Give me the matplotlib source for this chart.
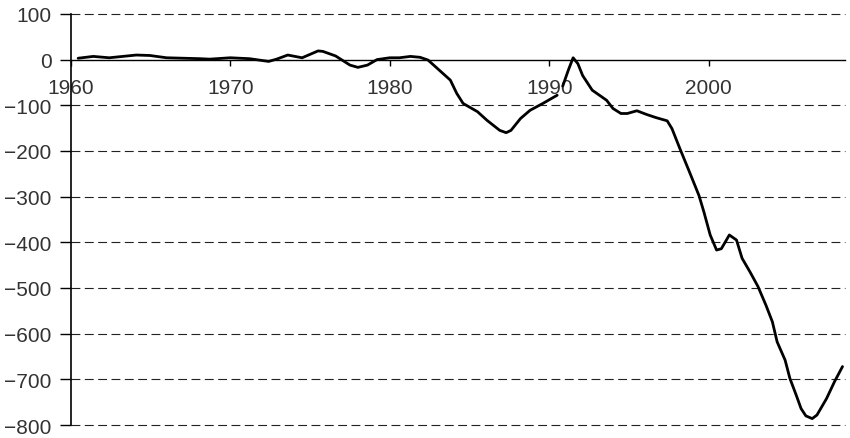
import matplotlib.pyplot as plt

plt.rcParams["font.family"] = ["Liberation Sans", "DejaVu Sans"]

# first segment, up to the 1990/91 break
years_a = [1960.45, 1961.4, 1962.4, 1964.1, 1964.95, 1966.0, 1968.1, 1968.7,
           1970.0, 1971.2, 1972.4, 1972.9, 1973.6, 1974.5, 1975.5, 1975.8,
           1976.6, 1977.5, 1978.0, 1978.6, 1979.2, 1980.0, 1980.6, 1981.3,
           1981.9, 1982.4, 1983.1, 1983.8, 1984.2, 1984.6, 1985.5, 1986.1,
           1986.9, 1987.3, 1987.6, 1988.2, 1988.8, 1989.6, 1990.5]
values_a = [3, 7, 4, 10, 9, 4, 2, 1,
            4, 2, -4, 1, 10, 4, 19, 18,
            8, -12, -17, -12, 0, 4, 4, 7,
            5, -1, -23, -45, -74, -96, -114, -133,
            -155, -160, -155, -129, -111, -96, -78]

# second segment, after the break
years_b = [1990.85, 1991.2, 1991.5, 1991.8, 1992.1, 1992.7, 1993.6, 1994.0,
           1994.5, 1994.9, 1995.5, 1996.1, 1996.7, 1997.4, 1997.7, 1998.2,
           1998.8, 1999.4, 1999.7, 2000.1, 2000.5, 2000.8, 2001.3, 2001.75,
           2002.1, 2002.6, 2003.1, 2003.6, 2004.0, 2004.3, 2004.8, 2005.1,
           2005.5, 2005.8, 2006.1, 2006.5, 2006.8, 2007.4, 2007.9, 2008.4]
values_b = [-58, -23, 4, -9, -35, -67, -89, -107,
            -118, -118, -112, -120, -127, -134, -151, -195,
            -246, -298, -333, -384, -417, -414, -384, -395,
            -435, -465, -497, -538, -574, -618, -658, -698,
            -735, -764, -780, -786, -778, -742, -705, -672]

x_ticks = [1960, 1970, 1980, 1990, 2000]
y_ticks = list(range(-800, 101, 100))

fig = plt.figure(figsize=(8.5, 4.39), dpi=100)
ax = fig.add_axes([0.0835, 0.0296, 0.9105, 0.9364])

for y in y_ticks:
    if y != 0:
        ax.axhline(y, color="#222222", lw=0.8, ls=(0, (8, 4)), zorder=1,
                   clip_on=False)

line_kw = dict(color="black", lw=2, zorder=3, solid_joinstyle="round",
               solid_capstyle="round")
ax.plot(years_a, values_a, **line_kw)
ax.plot(years_b, values_b, **line_kw)

ax.set_xlim(1960, 2008.55)
ax.set_ylim(-800, 100)
ax.set_xticks(x_ticks)
ax.set_yticks(y_ticks)
ax.set_yticklabels([str(v).replace("-", "\u2212") for v in y_ticks])

ax.spines["top"].set_visible(False)
ax.spines["right"].set_visible(False)
ax.spines["bottom"].set_position(("data", 0))
ax.spines["bottom"].set_linewidth(1.0)
ax.spines["left"].set_linewidth(1.2)

ax.tick_params(axis="y", direction="out", length=8, width=1, pad=6,
               labelsize=15, labelcolor="#333333")
ax.tick_params(axis="x", direction="out", length=4.5, width=1, pad=9,
               labelsize=15, labelcolor="#333333")

fig.savefig("out.png", dpi=100)
